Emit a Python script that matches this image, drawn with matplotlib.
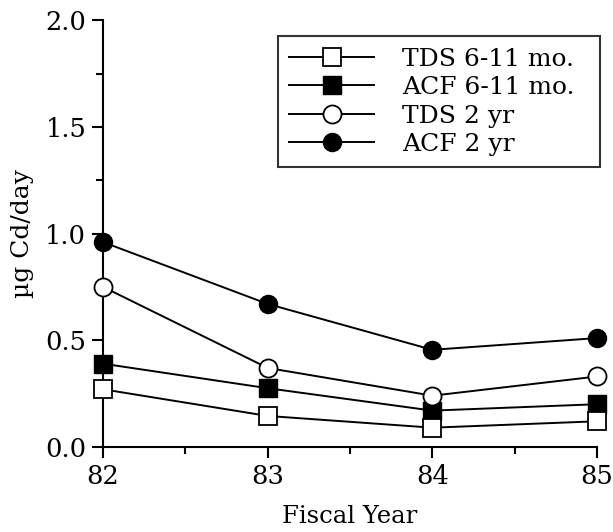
import numpy as np
import matplotlib.pyplot as plt
from matplotlib.ticker import MultipleLocator

# Data
years = [82, 83, 84, 85]
tds_infant = [0.27, 0.145, 0.09, 0.12]
acf_infant = [0.39, 0.275, 0.17, 0.20]
tds_toddler = [0.75, 0.37, 0.24, 0.33]
acf_toddler = [0.96, 0.67, 0.455, 0.51]

labels = ["TDS 6-11 mo.", "ACF 6-11 mo.", "TDS 2 yr", "ACF 2 yr"]

plt.rcParams['font.family'] = ['DejaVu Serif']

fig = plt.figure(figsize=(6.13, 5.32), dpi=100)
ax = fig.add_axes([0.168, 0.160, 0.806, 0.802])

ms = 13
ax.plot(years, tds_infant, 'k-', marker='s', mfc='white', mec='black', mew=1.3, ms=ms, lw=1.4, label=labels[0], clip_on=False, zorder=3)
ax.plot(years, acf_infant, 'k-', marker='s', mfc='black', mec='black', ms=ms, lw=1.4, label=labels[1], clip_on=False, zorder=2)
ax.plot(years, tds_toddler, 'k-', marker='o', mfc='white', mec='black', mew=1.3, ms=ms, lw=1.4, label=labels[2], clip_on=False, zorder=4)
ax.plot(years, acf_toddler, 'k-', marker='o', mfc='black', mec='black', ms=ms, lw=1.4, label=labels[3], clip_on=False, zorder=5)

ax.set_xlim(82, 85)
ax.set_ylim(0, 2.0)
ax.set_xticks(years)
ax.xaxis.set_minor_locator(MultipleLocator(0.5))
ax.yaxis.set_major_locator(MultipleLocator(0.5))
ax.yaxis.set_minor_locator(MultipleLocator(0.25))
ax.yaxis.set_major_formatter(plt.FormatStrFormatter('%.1f'))

for s in ['top', 'right']:
    ax.spines[s].set_visible(False)
for s in ['left', 'bottom']:
    ax.spines[s].set_linewidth(1.5)

ax.tick_params(which='major', direction='out', length=8, width=1.5, labelsize=18.5, pad=4)
ax.tick_params(which='minor', direction='out', length=5, width=1.5)

ax.set_xlabel("Fiscal Year", fontsize=17.5, labelpad=12)
ax.set_ylabel("µg Cd/day", fontsize=18, labelpad=8)

# legend box stretched to the width used in the original
leg = ax.legend(loc='upper left', bbox_to_anchor=(0.354, 0.0, 0.652, 0.962),
                mode='expand', fontsize=18,
                handlelength=3.4, handletextpad=1.1, labelspacing=0.22,
                frameon=True, fancybox=False, borderpad=0.45, borderaxespad=0,
                markerscale=1.0)
leg.get_frame().set_edgecolor('black')
leg.get_frame().set_linewidth(1.5)

plt.savefig("out.png", dpi=100)
